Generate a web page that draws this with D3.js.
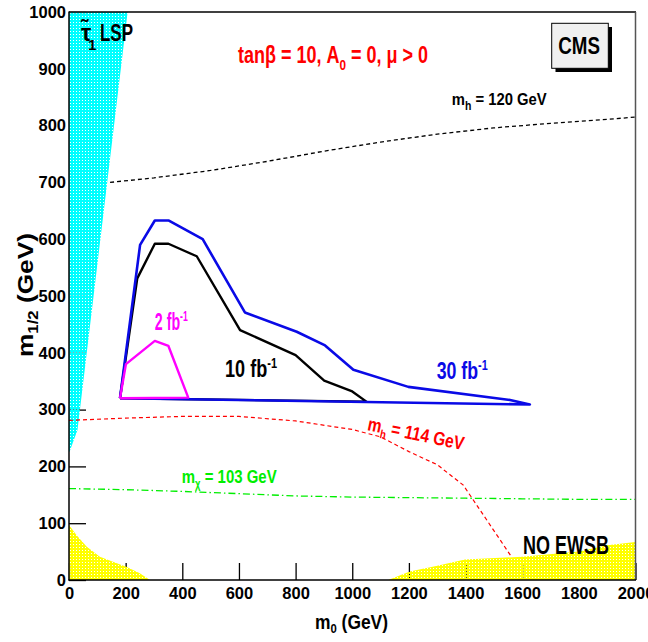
<!DOCTYPE html>
<html><head><meta charset="utf-8">
<script src="https://cdn.jsdelivr.net/npm/d3@7"></script>
<style>
html,body{margin:0;padding:0;background:#fff;}
text{font-family:"Liberation Sans Narrow","Arial Narrow","Liberation Sans",Arial,sans-serif;font-weight:bold;}
</style></head>
<body>
<svg id="c" width="648" height="642"></svg>
<script>
// ---- data ----
const xTicks = [0,200,400,600,800,1000,1200,1400,1600,1800,2000];
const yTicks = [0,100,200,300,400,500,600,700,800,900,1000];
const xMinor = d3.range(0,2001,50);
const yMinor = d3.range(0,1001,20);

const tauLspRegion = [[0,1000],[207,1000],[30,264],[15,244],[3,227],[0,225]];
const noEwsbLeft = [[0,0],[0,97],[27,79],[62,59],[109,41],[204,23],[250,12],[286,0]];
const noEwsbRight = [[1127,0],[1203,15],[1300,25],[1398,36],[1600,41],[1800,50],[1900,61],[2000,67],[2000,0]];

const mh120 = [[145,700],[300,708],[500,721],[700,737],[900,755],[1100,771],[1300,785],[1500,796],[1700,804],[1900,811],[2000,815]];
const mh114 = [[0,281],[200,285],[400,288],[600,288],[800,280],[1000,265],[1100,252],[1200,226],[1300,203],[1392,167],[1562,41]];
const mchi103 = [[0,161],[200,159],[400,156],[600,152],[800,148],[1000,146],[1200,145],[1400,144],[1600,143],[1800,142],[2000,142]];

const contour10 = [[180,320],[241,531],[303,592],[351,592],[451,570],[604,440],[800,396],[901,351],[1000,332],[1050,314],[180,320]];
const contour30 = [[180,320],[251,590],[303,633],[351,633],[472,600],[621,471],[804,437],[904,413],[1004,370],[1198,340],[1557,317],[1627,309],[180,320]];
const contour2 = [[180,320],[201,380],[303,421],[351,412],[421,321],[180,320]];

// ---- scales ----
const svg = d3.select("#c");
const x = d3.scaleLinear([0,2000],[69,635.5]);
const y = d3.scaleLinear([0,1000],[580,12]);
const line = d3.line().x(d=>x(d[0])).y(d=>y(d[1]));

const defs = svg.append("defs");
function pat(id,color){
  const p = defs.append("pattern").attr("id",id).attr("width",3).attr("height",3).attr("patternUnits","userSpaceOnUse");
  p.append("path").attr("d","M0,0H3V3H0Z M1,1H2V2H1Z").attr("fill",color).attr("fill-rule","evenodd");
}
pat("pc","#00ffff"); pat("py","#ffff00");
defs.append("clipPath").attr("id","plot").append("rect").attr("x",69).attr("y",12).attr("width",566.5).attr("height",568);

// ---- axes (ticks inward) ----
const gy = svg.append("g").attr("transform","translate(69,0)");
gy.call(d3.axisLeft(y).tickValues(yMinor).tickSize(-8.5).tickFormat(""));
gy.call(d3.axisLeft(y).tickValues(yTicks).tickSize(-17).tickPadding(3).tickFormat(d3.format("d")));
gy.selectAll("path.domain").remove();
gy.selectAll("line").attr("stroke","#000").attr("stroke-width",1.3);
gy.selectAll("text").attr("font-size",16.5).attr("fill","#000");

const gx = svg.append("g").attr("transform","translate(0,580)");
gx.call(d3.axisBottom(x).tickValues(xMinor).tickSize(-8.5).tickFormat(""));
gx.call(d3.axisBottom(x).tickValues(xTicks).tickSize(-17).tickFormat(d3.format("d")));
gx.selectAll("path.domain").remove();
gx.selectAll("line").attr("stroke","#000").attr("stroke-width",1.3);
gx.selectAll("text").attr("font-size",16.5).attr("fill","#000").attr("y",19).attr("dy",0);

// ---- regions ----
const plot = svg.append("g").attr("clip-path","url(#plot)");
plot.append("path").attr("d",line(tauLspRegion)+"Z").attr("fill","url(#pc)");
plot.append("path").attr("d",line(noEwsbLeft)+"Z").attr("fill","url(#py)");
plot.append("path").attr("d",line(noEwsbRight)+"Z").attr("fill","url(#py)");

// ---- iso lines ----
plot.append("path").attr("d",line(mh120)).attr("fill","none").attr("stroke","#000").attr("stroke-width",1.3).attr("stroke-dasharray","4,3");
plot.append("path").attr("d",line(mh114)).attr("fill","none").attr("stroke","#ff0000").attr("stroke-width",1.2).attr("stroke-dasharray","4,3");
plot.append("path").attr("d",line(mchi103)).attr("fill","none").attr("stroke","#00ee00").attr("stroke-width",1.3).attr("stroke-dasharray","7,3,1.5,3");

// ---- contours ----
plot.append("path").attr("d",line(contour10)).attr("fill","none").attr("stroke","#000").attr("stroke-width",2.4).attr("stroke-linejoin","round");
plot.append("path").attr("d",line(contour30)).attr("fill","none").attr("stroke","#0a0ae6").attr("stroke-width",2.6).attr("stroke-linejoin","round");
plot.append("path").attr("d",line(contour2)).attr("fill","none").attr("stroke","#ff00ff").attr("stroke-width",2.4).attr("stroke-linejoin","round");

// ---- frame ----
svg.append("line").attr("x1",69).attr("x2",636).attr("y1",12).attr("y2",12).attr("stroke","#000").attr("stroke-width",1.5);
svg.append("line").attr("x1",635.5).attr("x2",635.5).attr("y1",12).attr("y2",580).attr("stroke","#555").attr("stroke-width",1.5);
svg.append("line").attr("x1",69).attr("x2",69).attr("y1",11.5).attr("y2",580.5).attr("stroke","#000").attr("stroke-width",1.5);
svg.append("line").attr("x1",68.5).attr("x2",636).attr("y1",580).attr("y2",580).attr("stroke","#000").attr("stroke-width",1.5);

// ---- text helpers ----
function label(px,py,fs,color,len,parts,rot){
  const t = svg.append("text").attr("font-size",fs).attr("fill",color);
  if(rot!==undefined) t.attr("transform",`translate(${px},${py}) rotate(${rot})`);
  else t.attr("x",px).attr("y",py);
  parts.forEach(p=>{
    const s = t.append("tspan").text(p.t);
    if(p.fs) s.attr("font-size",p.fs);
    if(p.dy) s.attr("dy",p.dy);
  });
  if(len) t.attr("textLength",len).attr("lengthAdjust","spacingAndGlyphs");
  return t;
}

// axis titles
label(315,629,20,"#000",73,[{t:"m"},{t:"0",fs:13,dy:4},{t:" (GeV)",dy:-4}]);
label(33,357,22,"#000",124,[{t:"m"},{t:"1/2",fs:14,dy:5},{t:" (GeV)",dy:-5}],-90);

// title
label(238,63,23,"#ff0000",190,[{t:"tanβ = 10, A"},{t:"0",fs:15,dy:7},{t:" = 0, μ > 0",dy:-7}]);

// CMS box
svg.append("rect").attr("x",555.5).attr("y",27).attr("width",56.5).attr("height",45).attr("fill","#000");
svg.append("rect").attr("x",551.7).attr("y",23.3).attr("width",56.6).attr("height",45).attr("fill","#f0f0f0").attr("stroke","#000").attr("stroke-width",1);
label(558.3,54.3,24,"#000",41.7,[{t:"CMS"}]);

// tau LSP
label(81,40.7,23,"#000",null,[{t:"τ\u0303"}]);
label(88,50,15,"#000",null,[{t:"1"}]);
label(100,40.7,23,"#000",33,[{t:"LSP"}]);

// iso line labels
label(451.7,105,17,"#000",95,[{t:"m"},{t:"h",fs:12,dy:5},{t:" = 120 GeV",dy:-5}]);
label(181.7,483,19,"#00ee00",95,[{t:"m"},{t:"χ",fs:12,dy:5},{t:" = 103 GeV",dy:-5}]);
label(366.7,430,19,"#ff0000",98,[{t:"m"},{t:"h",fs:12,dy:5},{t:" = 114 GeV",dy:-5}],11.8);
label(523,554,25,"#000",86,[{t:"NO EWSB"}]);

// luminosity labels
label(x(303),y(440),23,"#ff00ff",33,[{t:"2 fb"},{t:"-1",fs:14,dy:-9}]);
label(x(551),y(357),23,"#000",52,[{t:"10 fb"},{t:"-1",fs:14,dy:-9}]);
label(x(1298),y(354),23,"#0a0ae6",51,[{t:"30 fb"},{t:"-1",fs:14,dy:-9}]);
</script>
</body></html>
